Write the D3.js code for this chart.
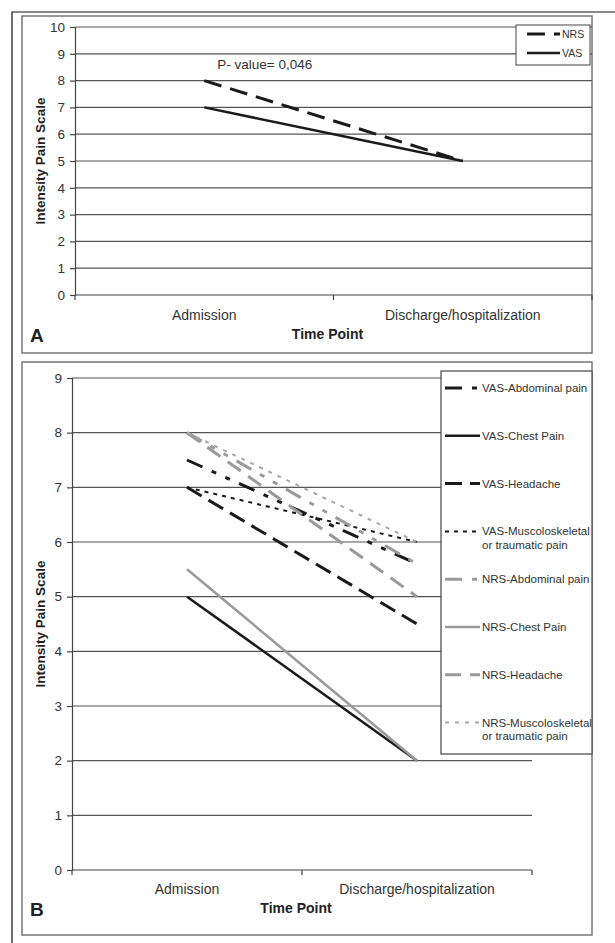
<!DOCTYPE html>
<html>
<head>
<meta charset="utf-8">
<script src="https://cdn.jsdelivr.net/npm/d3@7"></script>
<style>
  body { margin: 0; background: #fff; }
  text { font-family: "Liberation Sans", Arial, sans-serif; fill: #222; }
</style>
</head>
<body>
<div id="chart"></div>
<script>
// categories and values
var timePoints = ["Admission", "Discharge/hospitalization"]

var seriesA = ["NRS", "VAS"]
var valuesA = [[8, 5], [7, 5]]
var pValue = "P- value= 0,046"

var seriesB = ["VAS-Abdominal pain", "VAS-Chest Pain", "VAS-Headache",
               "VAS-Muscoloskeletal\nor traumatic pain",
               "NRS-Abdominal pain", "NRS-Chest Pain", "NRS-Headache",
               "NRS-Muscoloskeletal\nor traumatic pain"]
var valuesB = [[7.5, 5.6], [5, 2], [7, 4.5], [7, 6],
               [8, 5.6], [5.5, 2], [8, 5], [8, 6]]

var ticksA = d3.range(0, 11)
var ticksB = d3.range(0, 10)

// line looks
var styleA = [
    { color: "#1a1a1a", dash: "18,9", w: 3 },
    { color: "#1a1a1a", dash: null, w: 2.5 }
]
var styleB = [
    { color: "#1a1a1a", dash: "17,10,5,10,5,10", w: 3 },
    { color: "#1a1a1a", dash: null, w: 2.5 },
    { color: "#1a1a1a", dash: "17,8", w: 3 },
    { color: "#1a1a1a", dash: "4,5", w: 2 },
    { color: "#9a9a9a", dash: "17,10,5,10,5,10", w: 3 },
    { color: "#9a9a9a", dash: null, w: 2.5 },
    { color: "#9a9a9a", dash: "16,9", w: 3 },
    { color: "#a8a8a8", dash: "4,6", w: 2 }
]

var svg = d3.select("#chart").append("svg")
            .attr("width", 615)
            .attr("height", 943)

// outer frame, only top and left visible
svg.append("path")
   .attr("d", "M12,943 L12,12 L615,12")
   .attr("fill", "none")
   .attr("stroke", "#111")
   .attr("stroke-width", 1.2)

function drawPanel(cfg) {

    var g = svg.append("g")

    g.append("rect")
     .attr("x", cfg.box[0]).attr("y", cfg.box[1])
     .attr("width", cfg.box[2] - cfg.box[0])
     .attr("height", cfg.box[3] - cfg.box[1])
     .attr("fill", "#fff")
     .attr("stroke", "#777")
     .attr("stroke-width", 1.5)

    var x = d3.scaleBand().domain(timePoints).range([cfg.left, cfg.right])
    var y = d3.scaleLinear().domain([0, d3.max(cfg.ticks)]).range([cfg.bottom, cfg.top])

    // grid
    g.selectAll(".grid")
     .data(cfg.ticks.slice(1))
     .join("line")
     .attr("x1", cfg.left).attr("x2", cfg.right)
     .attr("y1", d => y(d)).attr("y2", d => y(d))
     .attr("stroke", "#555")
     .attr("stroke-width", 1.2)

    var yAxis = g.append("g")
                 .attr("transform", "translate(" + cfg.left + ",0)")
                 .call(d3.axisLeft(y).tickValues(cfg.ticks).tickSize(5).tickPadding(5))
    yAxis.selectAll("line, path").attr("stroke", "#444").attr("stroke-width", 1.2)
    yAxis.selectAll("text").attr("font-size", 13.5).style("fill", "#333")
         .style("font-family", "Liberation Sans, Arial, sans-serif")

    // x axis with ticks at band edges
    var xAxis = g.append("g")
    xAxis.append("line")
         .attr("x1", cfg.left).attr("x2", cfg.right)
         .attr("y1", cfg.bottom).attr("y2", cfg.bottom)
         .attr("stroke", "#444").attr("stroke-width", 1.2)
    xAxis.selectAll(".xt")
         .data(timePoints.map(d => x(d)).concat([cfg.right]))
         .join("line")
         .attr("x1", d => d).attr("x2", d => d)
         .attr("y1", cfg.bottom).attr("y2", cfg.bottom + 5)
         .attr("stroke", "#444").attr("stroke-width", 1.2)
    xAxis.selectAll(".xl")
         .data(timePoints)
         .join("text")
         .attr("x", d => x(d) + x.bandwidth() / 2)
         .attr("y", cfg.bottom + cfg.catDy)
         .attr("text-anchor", "middle")
         .attr("font-size", 14)
         .style("fill", "#333")
         .text(d => d)

    g.append("text")
     .attr("x", (cfg.left + cfg.right) / 2 - 6)
     .attr("y", cfg.bottom + cfg.catDy + 19)
     .attr("text-anchor", "middle")
     .attr("font-size", 14)
     .attr("font-weight", "bold")
     .text("Time Point")

    g.append("text")
     .attr("transform", "translate(" + 45 + "," + (cfg.top + cfg.bottom) / 2 + ") rotate(-90)")
     .attr("text-anchor", "middle")
     .attr("font-size", 13.5)
     .attr("font-weight", "bold")
     .text("Intensity Pain Scale")

    g.append("text")
     .attr("x", 30)
     .attr("y", cfg.bottom + cfg.catDy + 22)
     .attr("font-size", 19)
     .attr("font-weight", "bold")
     .text(cfg.letter)

    // series
    var line = d3.line()
                 .x((d, i) => x(timePoints[i]) + x.bandwidth() / 2)
                 .y(d => y(d))

    g.selectAll(".series")
     .data(cfg.values)
     .join("path")
     .attr("d", d => line(d))
     .attr("fill", "none")
     .attr("stroke", (d, i) => cfg.styles[i].color)
     .attr("stroke-width", (d, i) => cfg.styles[i].w)
     .attr("stroke-dasharray", (d, i) => cfg.styles[i].dash)

    return { g: g, x: x, y: y }
}

// panel A
var pA = drawPanel({
    box: [22, 16, 592, 353],
    left: 75, right: 592, top: 27, bottom: 295,
    ticks: ticksA, values: valuesA, styles: styleA,
    catDy: 25, letter: "A"
})

pA.g.append("text")
    .attr("x", pA.x(timePoints[0]) + pA.x.bandwidth() / 2 + 13)
    .attr("y", pA.y(8) - 12)
    .attr("font-size", 13.5)
    .style("fill", "#333")
    .text(pValue)

var legA = pA.g.append("g")
legA.append("rect")
    .attr("x", 516).attr("y", 25).attr("width", 74).attr("height", 40)
    .attr("fill", "#fff").attr("stroke", "#444").attr("stroke-width", 1)
legA.selectAll(".ls")
    .data(seriesA)
    .join("line")
    .attr("x1", 527).attr("x2", 560)
    .attr("y1", (d, i) => 34 + i * 19).attr("y2", (d, i) => 34 + i * 19)
    .attr("stroke", (d, i) => styleA[i].color)
    .attr("stroke-width", (d, i) => styleA[i].w)
    .attr("stroke-dasharray", (d, i) => styleA[i].dash)
legA.selectAll(".lt")
    .data(seriesA)
    .join("text")
    .attr("x", 562)
    .attr("y", (d, i) => 38 + i * 19)
    .attr("font-size", 10.5)
    .style("fill", "#333")
    .text(d => d)

// panel B
var pB = drawPanel({
    box: [22, 362, 592, 935],
    left: 72, right: 532, top: 378, bottom: 870,
    ticks: ticksB, values: valuesB, styles: styleB,
    catDy: 24, letter: "B"
})

var legB = pB.g.append("g")
legB.append("rect")
    .attr("x", 441).attr("y", 371).attr("width", 151).attr("height", 383)
    .attr("fill", "#fff").attr("stroke", "#444").attr("stroke-width", 1.2)
legB.selectAll(".ls")
    .data(seriesB)
    .join("line")
    .attr("x1", 445).attr("x2", 480)
    .attr("y1", (d, i) => 388 + i * 47.8).attr("y2", (d, i) => 388 + i * 47.8)
    .attr("stroke", (d, i) => styleB[i].color)
    .attr("stroke-width", (d, i) => styleB[i].w)
    .attr("stroke-dasharray", (d, i) => styleB[i].dash)
legB.selectAll(".lt")
    .data(seriesB)
    .join("text")
    .attr("x", 482)
    .attr("y", (d, i) => 392 + i * 47.8)
    .attr("font-size", 11.5)
    .style("fill", "#333")
    .each(function(d) {
        var parts = d.split("\n")
        d3.select(this).selectAll("tspan")
          .data(parts)
          .join("tspan")
          .attr("x", 482)
          .attr("dy", (p, j) => j === 0 ? 0 : 13.5)
          .text(p => p)
    })
</script>
</body>
</html>
